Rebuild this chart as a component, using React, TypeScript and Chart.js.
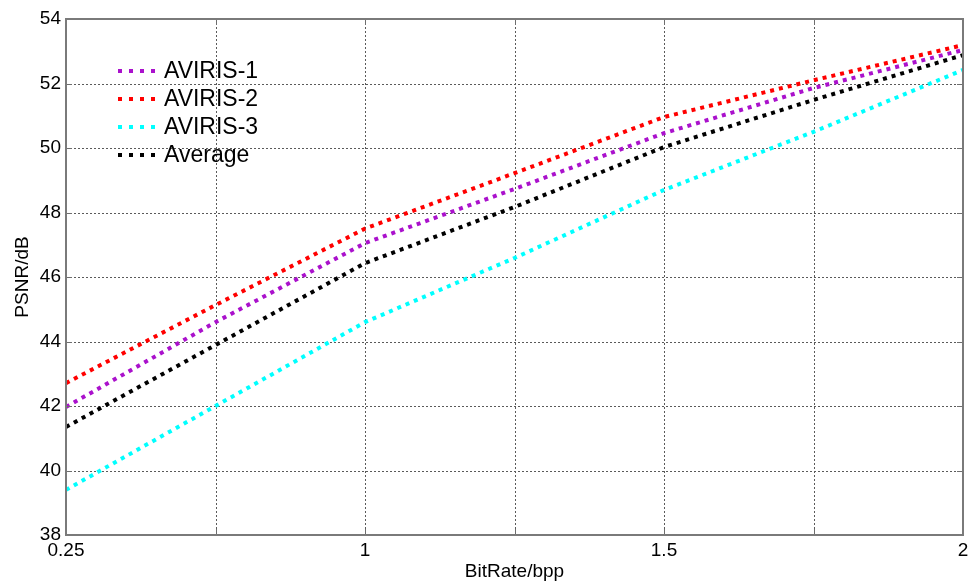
import React, { useEffect, useRef } from "react";
import { Chart, registerables } from "chart.js";

Chart.register(...registerables);

// Category positions along the x axis (tick labels as printed in the figure)
const xTickLabels = ["0.25", "", "1", "", "1.5", "", "2"];

const seriesNames = ["AVIRIS-1", "AVIRIS-2", "AVIRIS-3", "Average"];
const aviris1 = [41.97, 44.6, 47.05, 48.73, 50.46, 51.86, 53.04];
const aviris2 = [42.71, 45.13, 47.5, 49.22, 50.96, 52.1, 53.19];
const aviris3 = [39.4, 42.0, 44.6, 46.59, 48.7, 50.5, 52.42];
const average = [41.35, 43.89, 46.43, 48.17, 50.03, 51.49, 52.88];
const seriesColors = ["#AA11CC", "#FF0000", "#00FFFF", "#000000"];

const yMin = 38;
const yMax = 54;
const yStep = 2;

const FONT = "'Liberation Sans', Arial, sans-serif";

const dottedGrid = {
  id: "dottedGrid",
  beforeDatasetsDraw(chart: any) {
    const { ctx, chartArea } = chart;
    const { left, right, top, bottom } = chartArea;
    const xs = chart.scales.x;
    const ys = chart.scales.y;
    ctx.save();
    ctx.strokeStyle = "#5a5a5a";
    ctx.lineWidth = 1;
    ctx.setLineDash([2, 2]);
    ctx.beginPath();
    xs.ticks.forEach((_t: any, i: number) => {
      const px = Math.round(xs.getPixelForTick(i)) + 0.5;
      ctx.moveTo(px, top);
      ctx.lineTo(px, bottom);
    });
    ys.ticks.forEach((_t: any, i: number) => {
      const py = Math.round(ys.getPixelForTick(i)) + 0.5;
      ctx.moveTo(left, py);
      ctx.lineTo(right, py);
    });
    ctx.stroke();
    ctx.restore();
  },
};

const frameAndTicks = {
  id: "frameAndTicks",
  afterDatasetsDraw(chart: any) {
    const { ctx, chartArea } = chart;
    const { left, right, top, bottom } = chartArea;
    const xs = chart.scales.x;
    const ys = chart.scales.y;
    ctx.save();
    ctx.strokeStyle = "#6e6e6e";
    ctx.lineWidth = 1;
    ctx.setLineDash([]);
    const tl = 6;
    ctx.beginPath();
    xs.ticks.forEach((_t: any, i: number) => {
      const px = Math.round(xs.getPixelForTick(i)) + 0.5;
      ctx.moveTo(px, bottom);
      ctx.lineTo(px, bottom - tl);
      ctx.moveTo(px, top);
      ctx.lineTo(px, top + tl);
    });
    ys.ticks.forEach((_t: any, i: number) => {
      const py = Math.round(ys.getPixelForTick(i)) + 0.5;
      ctx.moveTo(left, py);
      ctx.lineTo(left + tl, py);
      ctx.moveTo(right, py);
      ctx.lineTo(right - tl, py);
    });
    ctx.stroke();
    ctx.strokeStyle = "#7a7a7a";
    ctx.lineWidth = 2;
    ctx.strokeRect(left, top, right - left, bottom - top);
    ctx.restore();
  },
};

const insideLegend = {
  id: "insideLegend",
  afterDraw(chart: any) {
    const { ctx } = chart;
    ctx.save();
    const x0 = 118;
    const x1 = 156;
    const y0 = 71;
    const dy = 28;
    chart.data.datasets.forEach((ds: any, i: number) => {
      const y = y0 + i * dy;
      ctx.strokeStyle = ds.borderColor;
      ctx.lineWidth = 4;
      ctx.lineCap = "butt";
      ctx.setLineDash([4, 7]);
      ctx.beginPath();
      ctx.moveTo(x0, y);
      ctx.lineTo(x1, y);
      ctx.stroke();
      ctx.setLineDash([]);
      ctx.fillStyle = "#000";
      ctx.font = `23px ${FONT}`;
      ctx.textAlign = "left";
      ctx.textBaseline = "middle";
      ctx.fillText(ds.label, 164, y + 1);
    });
    ctx.restore();
  },
};

export default function App() {
  const ref = useRef<HTMLCanvasElement | null>(null);

  useEffect(() => {
    if (!ref.current) return;
    const values = [aviris1, aviris2, aviris3, average];
    const chart = new Chart(ref.current, {
      type: "line",
      data: {
        labels: xTickLabels,
        datasets: values.map((v, i) => ({
          label: seriesNames[i],
          data: v,
          borderColor: seriesColors[i],
          backgroundColor: seriesColors[i],
          borderWidth: 4,
          borderDash: [4, 5],
          borderCapStyle: "butt",
          pointRadius: 0,
          tension: 0,
          fill: false,
        })),
      },
      options: {
        responsive: false,
        animation: false,
        layout: { padding: { top: 19, right: 15, left: 0, bottom: 0 } },
        plugins: {
          legend: { display: false },
          tooltip: { enabled: false },
        },
        scales: {
          x: {
            type: "category",
            offset: false,
            afterFit: (s: any) => {
              s.height = 49;
            },
            grid: { display: false, drawTicks: false },
            border: { display: false },
            ticks: {
              autoSkip: false,
              maxRotation: 0,
              padding: 4,
              color: "#000",
              font: { family: FONT, size: 19 },
            },
            title: {
              display: true,
              text: "BitRate/bpp",
              color: "#000",
              font: { family: FONT, size: 19 },
              padding: { top: 0, bottom: 1 },
            },
          },
          y: {
            type: "linear",
            min: yMin,
            max: yMax,
            afterFit: (s: any) => {
              s.width = 66;
            },
            grid: { display: false, drawTicks: false },
            border: { display: false },
            ticks: {
              stepSize: yStep,
              padding: 5,
              color: "#000",
              font: { family: FONT, size: 19 },
            },
            title: {
              display: true,
              text: "PSNR/dB",
              color: "#000",
              font: { family: FONT, size: 19 },
              padding: { top: 11, bottom: 0 },
            },
          },
        },
      },
      plugins: [dottedGrid, frameAndTicks, insideLegend],
    } as any);
    return () => chart.destroy();
  }, []);

  return (
    <div
      style={{
        position: "absolute",
        left: 0,
        top: 0,
        width: 978,
        height: 584,
        background: "#fff",
      }}
    >
      <canvas ref={ref} width={978} height={584} />
    </div>
  );
}
